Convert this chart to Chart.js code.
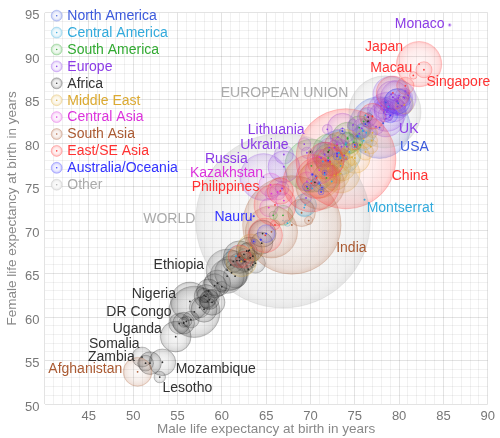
<!DOCTYPE html>
<html><head><meta charset="utf-8">
<script src="https://cdn.jsdelivr.net/npm/chart.js@4"></script>
<style>html,body{margin:0;padding:0;background:#fff}</style>
</head><body>
<canvas id="c" width="500" height="438" style="width:500px;height:438px;display:block"></canvas>
<script>
// ---------- DATA: [country, male LE, female LE, population (millions)] ----------
const regionNames = ['North America','Central America','South America','Europe','Africa','Middle East','Central Asia','South Asia','East/SE Asia','Australia/Oceania','Other'];

const northAmerica = [
 ['USA',77.8,81.8,322],['Canada',79.9,84.6,35],['Greenland',70.6,76.2,0.056],
 ['Bermuda',78.5,84.7,0.065],['Saint Pierre and Miquelon',78.2,82.3,0.006]
];
const centralAmerica = [
 ['Mexico',73.2,78.9,123],['Guatemala',69.4,72.9,16],['Cuba',76.3,81.2,11.2],['Haiti',61.6,67.0,10.8],
 ['Dominican Republic',76.0,80.3,10.5],['Honduras',69.3,72.6,8.9],['Nicaragua',71.0,75.3,6.0],
 ['El Salvador',71.4,77.9,6.1],['Costa Rica',75.9,81.4,4.9],['Panama',75.9,81.5,3.7],['Puerto Rico',76.2,83.2,3.5],
 ['Jamaica',72.4,75.6,2.9],['Trinidad and Tobago',70.1,75.6,1.2],['Belize',67.4,70.8,0.35],['Bahamas',70.2,74.8,0.33],
 ['Barbados',73.3,78.4,0.29],['Saint Lucia',75.4,80.8,0.16],['Grenada',71.6,76.4,0.11],['Saint Vincent',73.4,77.4,0.1],
 ['Antigua and Barbuda',74.4,79.0,0.09],['Dominica',74.0,80.0,0.07],['Saint Kitts and Nevis',73.4,78.3,0.05],
 ['Cayman Islands',78.8,84.2,0.06],['Aruba',74.0,79.8,0.11],['Montserrat',76.1,73.5,0.005]
];
const southAmerica = [
 ['Brazil',70.1,77.4,205],['Colombia',72.1,79.2,47],['Argentina',74.2,80.6,43],['Peru',71.8,76.0,30],
 ['Venezuela',72.0,78.3,30],['Chile',75.5,81.8,17.7],['Ecuador',74.0,79.9,16],['Bolivia',66.9,71.7,11],
 ['Paraguay',74.9,80.1,6.8],['Uruguay',74.2,80.5,3.4],['Guyana',65.8,71.7,0.77],['Suriname',69.7,74.8,0.58],
 ['French Guiana',76.0,82.5,0.25],['Falkland Islands',75.6,79.8,0.003]
];
const europe = [
 ['Russia',64.7,76.1,142],['Germany',78.6,83.6,81],['France',79.1,85.6,66.8],['United Kingdom',78.5,82.8,64.4],
 ['Italy',79.9,85.2,62],['Spain',79.3,85.3,48.6],['Ukraine',67.0,77.3,44],['Poland',73.6,81.7,38.5],
 ['Romania',71.6,78.7,21.6],['Netherlands',79.5,83.8,17],['Belgium',78.3,83.9,11.4],['Greece',78.3,83.6,10.8],
 ['Czech Republic',75.8,81.7,10.6],['Portugal',76.4,83.0,10.8],['Sweden',80.3,84.3,9.9],['Hungary',72.1,79.5,9.9],
 ['Belarus',67.0,78.7,9.6],['Austria',78.9,84.3,8.7],['Switzerland',80.5,85.3,8.2],['Serbia',73.0,78.6,7.1],
 ['Bulgaria',71.2,78.3,7.1],['Denmark',77.4,81.9,5.6],['Finland',78.0,84.3,5.5],['Slovakia',73.1,80.7,5.4],
 ['Norway',79.8,84.2,5.3],['Ireland',78.5,83.3,4.9],['Croatia',72.7,79.5,4.3],['Bosnia and Herzegovina',73.5,79.6,3.9],
 ['Moldova',66.8,74.8,3.5],['Albania',75.5,81.1,3.0],['Lithuania',69.3,79.9,2.9],['Macedonia',73.8,78.6,2.1],
 ['Slovenia',74.8,82.1,2.0],['Latvia',69.6,78.9,2.0],['Kosovo',69.5,73.7,1.9],['Estonia',71.9,81.6,1.3],
 ['Cyprus',76.0,81.4,1.2],['Montenegro',74.1,79.6,0.64],['Luxembourg',79.3,85.3,0.58],['Malta',78.9,83.0,0.42],
 ['Iceland',81.0,85.5,0.34],['Jersey',79.8,84.8,0.1],['Guernsey',80.0,85.5,0.066],['Isle of Man',79.8,83.4,0.088],
 ['Andorra',80.6,85.2,0.085],['Faroe Islands',78.7,83.8,0.05],['Gibraltar',76.6,82.4,0.03],
 ['Liechtenstein',79.8,84.9,0.038],['San Marino',80.7,86.0,0.033],['Monaco',85.7,93.6,0.038]
];
const africa = [
 ['Nigeria',56.9,60.6,186],['Ethiopia',60.6,65.4,102],['DR Congo',56.4,61.8,79],['South Africa',60.6,64.7,55],
 ['Tanzania',61.1,65.1,53],['Kenya',62.0,66.9,47],['Uganda',54.8,57.75,40],['Ghana',64.6,69.6,27],
 ['Mozambique',53.3,54.8,26],['Madagascar',63.1,67.7,24.4],['Angola',59.5,63.9,25],['Cameroon',58.0,60.9,24],
 ['Ivory Coast',58.9,61.7,23.7],['Niger',59.2,63.6,19],['Burkina Faso',58.5,63.0,19],['Mali',58.2,62.4,17.5],
 ['Malawi',61.5,64.7,18],['Zambia',51.9,54.7,16],['Zimbabwe',61.3,66.4,14.5],['Senegal',64.5,68.5,15],
 ['Chad',55.7,59.3,14],['Guinea',57.5,61.1,12],['South Sudan',55.2,59.25,12.5],['Rwanda',62.6,66.4,11.5],
 ['Somalia',51.0,55.4,11],['Benin',63.8,66.2,10.7],['Burundi',58.6,62.0,10.5],['Togo',63.0,67.6,7.5],
 ['Sierra Leone',56.5,59.7,6.5],['Eritrea',62.8,67.6,6],['Central African Republic',51.4,54.7,5.5],
 ['Congo',58.4,61.8,4.8],['Liberia',58.0,62.5,4.5],['Mauritania',61.7,66.5,3.7],['Namibia',62.5,67.2,2.4],
 ['Botswana',63.2,66.8,2.2],['Lesotho',53.0,53.1,2.1],['Gambia',63.5,67.0,2.0],['Gabon',60.0,63.5,1.7],
 ['Guinea-Bissau',56.0,59.5,1.8],['Swaziland',55.7,59.4,1.4],['Mauritius',72.0,79.0,1.3],
 ['Djibouti',61.0,66.0,0.9],['Comoros',62.0,66.5,0.8],['Equatorial Guinea',63.0,65.5,0.8],
 ['Reunion',76.5,83.0,0.85],['Cape Verde',70.5,75.5,0.55],['Sao Tome and Principe',63.5,66.0,0.2],
 ['Seychelles',70.0,79.0,0.09],['Saint Helena',76.5,82.5,0.008]
];
const middleEast = [
 ['Egypt',71.1,76.0,90],['Iran',73.4,76.5,80],['Turkey',72.4,77.6,80],['Algeria',75.0,78.3,40],
 ['Sudan',62.2,66.4,40],['Iraq',72.7,76.3,37],['Morocco',74.0,79.9,34],['Saudi Arabia',73.5,77.3,32],
 ['Yemen',63.3,68.0,27],['Syria',72.0,77.1,18],['Tunisia',74.0,78.3,11],['UAE',76.0,80.5,9.3],
 ['Israel',80.6,84.4,8.2],['Jordan',73.1,76.4,8],['Libya',74.7,78.4,6.3],['Lebanon',76.2,79.0,6],
 ['Palestine',72.0,76.0,4.6],['Oman',73.5,77.6,4.4],['Kuwait',76.8,79.6,4],['Qatar',76.9,80.3,2.3],
 ['Bahrain',77.0,81.2,1.4]
];
const centralAsia = [
 ['Uzbekistan',71.0,76.9,30],['Kazakhstan',65.5,75.2,18],['Azerbaijan',69.6,75.6,9.8],['Tajikistan',65.3,72.6,8.5],
 ['Kyrgyzstan',66.3,74.4,6],['Turkmenistan',67.0,73.4,5.4],['Georgia',73.0,79.9,3.7],['Armenia',71.0,78.4,3],
 ['Mongolia',65.6,74.2,3]
];
const southAsia = [
 ['India',67.9,70.6,1310],['Pakistan',65.6,69.8,195],['Bangladesh',71.1,75.2,162],['Afghanistan',50.5,53.7,33],
 ['Nepal',69.0,72.0,29],['Sri Lanka',73.0,79.8,21],['Bhutan',69.8,71.1,0.78],['Maldives',73.5,78.0,0.4]
];
const eastAsia = [
 ['China',74.0,78.2,1373],['Indonesia',70.1,75.4,258],['Japan',82.25,89.1,127],['Philippines',66.0,72.9,102],
 ['Vietnam',70.7,76.0,95],['Thailand',71.7,78.0,68],['Myanmar',64.9,69.4,56],['South Korea',79.3,85.8,51],
 ['Malaysia',72.2,77.9,31],['North Korea',66.6,74.5,25],['Taiwan',77.0,83.1,23.5],['Cambodia',62.0,67.0,16],
 ['Laos',62.6,66.6,7],['Hong Kong',80.7,86.6,7.2],['Singapore',82.8,88.45,5.8],['Timor-Leste',66.0,70.6,1.2],
 ['Macau',81.6,87.8,0.6],['Brunei',75.0,79.6,0.43]
];
const oceania = [
 ['Australia',79.8,84.8,23],['Papua New Guinea',65.0,69.6,7.8],['New Zealand',79.0,83.2,4.5],['Fiji',69.6,75.0,0.9],
 ['Solomon Islands',73.0,78.5,0.64],['French Polynesia',75.0,79.8,0.28],['Vanuatu',71.2,74.4,0.27],
 ['New Caledonia',73.6,81.4,0.27],['Samoa',71.6,76.6,0.2],['Guam',76.2,82.2,0.16],['Kiribati',63.6,68.7,0.11],
 ['Micronesia',71.3,74.9,0.1],['Tonga',74.0,78.3,0.1],['American Samoa',72.0,78.0,0.055],
 ['Northern Mariana Islands',75.3,80.8,0.053],['Marshall Islands',71.0,75.4,0.07],['Palau',70.2,76.4,0.021],
 ['Cook Islands',73.0,78.8,0.01],['Tuvalu',64.4,68.9,0.011],['Nauru',63.6,71.6,0.01]
];
const other = [
 ['World',66.9,71.1,7300],['European Union',78.4,83.6,513]
];

// Text annotations: [text, male LE (left edge), female LE (middle), region index]
const annotations = [
 ['Monaco',79.51,93.71,3],['Japan',76.15,91.01,8],['Macau',76.75,88.65,8],['Singapore',83.09,87.08,8],
 ['EUROPEAN UNION',59.88,85.73,10],['UK',80.0,81.57,3],['USA',80.11,79.55,0],['China',79.17,76.18,8],
 ['Montserrat',76.34,72.58,1],['Lithuania',62.93,81.46,3],['Ukraine',62.08,79.78,3],['Russia',58.09,78.2,3],
 ['Kazakhstan',56.41,76.52,6],['Philippines',56.6,74.94,8],['Nauru',59.17,71.46,9],['WORLD',51.14,71.24,10],
 ['India',72.9,67.98,7],['Ethiopia',52.3,65.96,4],['Nigeria',49.83,62.58,4],['DR Congo',46.97,60.56,4],
 ['Uganda',47.7,58.65,4],['Somalia',45.02,56.85,4],['Zambia',44.91,55.39,4],['Afghanistan',40.43,54.04,7],
 ['Mozambique',54.8,54.04,4],['Lesotho',53.3,51.8,4]
];

// ---------- STYLE ----------
const regionRGB = [[60,90,220],[50,170,220],[50,170,50],[140,60,230],[40,40,40],[220,170,50],[220,50,220],[170,90,50],[255,50,50],[50,50,255],[170,170,170]];
const textRGB   = [[60,90,220],[50,170,220],[50,170,50],[140,60,230],[50,50,50],[220,170,50],[220,50,220],[170,90,50],[255,50,50],[50,50,255],[170,170,170]];
const regionData = [northAmerica,centralAmerica,southAmerica,europe,africa,middleEast,centralAsia,southAsia,eastAsia,oceania,other];
const FONT = "'Liberation Sans', Arial, Helvetica, sans-serif";
const rgba = (c,a) => `rgba(${c[0]},${c[1]},${c[2]},${a})`;
const radiusFor = pop => Math.max(0.8, 50 * Math.cbrt(pop / 1370));

function gradientFill(c, ctx2d, x, y, r) {
  const g = ctx2d.createRadialGradient(x, y, 0, x, y, Math.max(r, 0.5));
  g.addColorStop(0, rgba(c, 0.03));
  g.addColorStop(0.6, rgba(c, 0.09));
  g.addColorStop(0.9, rgba(c, 0.17));
  g.addColorStop(1, rgba(c, 0.28));
  return g;
}

const datasets = regionData.map((list, i) => ({
  label: regionNames[i],
  data: list.map(([name, m, f, pop]) => ({x: m, y: f, r: radiusFor(pop), name})),
  regionIndex: i,
  borderColor: rgba(regionRGB[i], 0.3),
  borderWidth: 0.7,
  backgroundColor: (ctx) => {
    const ch = ctx.chart, raw = ctx.raw;
    const fallback = rgba(regionRGB[i], 0.1);
    if (!raw || !ch.scales || !ch.scales.x || !ch.scales.y) return fallback;
    const px = ch.scales.x.getPixelForValue(raw.x), py = ch.scales.y.getPixelForValue(raw.y);
    if (!Number.isFinite(px) || !Number.isFinite(py) || !Number.isFinite(raw.r)) return fallback;
    return gradientFill(regionRGB[i], ch.ctx, px, py, raw.r);
  }
})).reverse(); // "Other" (World) drawn underneath

const overlayPlugin = {
  id: 'overlay',
  afterDatasetsDraw(chart) {
    const ctx = chart.ctx;
    ctx.save();
    chart.data.datasets.forEach((ds, di) => {
      const meta = chart.getDatasetMeta(di);
      ctx.fillStyle = rgba(regionRGB[ds.regionIndex], 0.95);
      meta.data.forEach(el => {
        ctx.beginPath(); ctx.arc(el.x, el.y, 0.9, 0, Math.PI * 2); ctx.fill();
      });
    });
    ctx.font = `14px ${FONT}`;
    ctx.textBaseline = 'middle';
    ctx.textAlign = 'left';
    const sx = chart.scales.x, sy = chart.scales.y;
    annotations.forEach(([t, x, y, ri]) => {
      ctx.fillStyle = rgba(textRGB[ri], 1);
      ctx.fillText(t, sx.getPixelForValue(x), sy.getPixelForValue(y));
    });
    ctx.restore();
  },
  afterDraw(chart) {
    const ctx = chart.ctx;
    ctx.save();
    ctx.font = `14px ${FONT}`;
    ctx.textBaseline = 'middle';
    ctx.textAlign = 'left';
    regionNames.forEach((name, i) => {
      const cx = 56.7, cy = 15.7 + i * 16.9, r = 5.5, c = regionRGB[i];
      ctx.fillStyle = '#fff';
      ctx.beginPath(); ctx.arc(cx, cy, r, 0, Math.PI * 2); ctx.fill();
      const g = ctx.createRadialGradient(cx, cy, 0, cx, cy, r);
      g.addColorStop(0, rgba(c, 0.02)); g.addColorStop(0.6, rgba(c, 0.1)); g.addColorStop(1, rgba(c, 0.35));
      ctx.fillStyle = g;
      ctx.beginPath(); ctx.arc(cx, cy, r, 0, Math.PI * 2); ctx.fill();
      ctx.strokeStyle = rgba(c, 0.35); ctx.lineWidth = 0.7; ctx.stroke();
      ctx.fillStyle = rgba(c, 0.9);
      ctx.beginPath(); ctx.arc(cx, cy, 0.8, 0, Math.PI * 2); ctx.fill();
      ctx.fillStyle = rgba(textRGB[i], 1);
      ctx.fillText(name, 67.3, cy + 0.5);
    });
    ctx.restore();
  }
};

const gridColor = ctx => (ctx.tick && ctx.tick.value % 5 === 0) ? 'rgba(0,0,0,0.11)' : 'rgba(0,0,0,0.055)';

new Chart(document.getElementById('c'), {
  type: 'bubble',
  data: { datasets },
  plugins: [overlayPlugin],
  options: {
    responsive: false,
    animation: false,
    events: [],
    layout: { autoPadding: false, padding: { top: 3.5, right: 9, left: 0, bottom: 0 } },
    plugins: { legend: { display: false }, tooltip: { enabled: false } },
    scales: {
      x: {
        type: 'linear', min: 40, max: 90,
        border: { display: false },
        grid: { color: gridColor, drawTicks: false, lineWidth: 1 },
        ticks: {
          stepSize: 1, autoSkip: false, maxRotation: 0, padding: 5,
          color: '#777', font: { family: FONT, size: 13 },
          callback: v => (v % 5 === 0 && v !== 40) ? String(v) : ''
        },
        title: { display: true, text: 'Male life expectancy at birth in years', color: '#888',
                 font: { family: FONT, size: 13.5 }, padding: { top: 0, bottom: 1 } },
        afterFit: s => { s.height = 34; }
      },
      y: {
        type: 'linear', min: 50, max: 95,
        border: { display: false },
        grid: { color: gridColor, drawTicks: false, lineWidth: 1 },
        ticks: {
          stepSize: 1, autoSkip: false, padding: 5, labelOffset: 3,
          color: '#777', font: { family: FONT, size: 13 },
          callback: v => (v % 5 === 0) ? String(v) : ''
        },
        title: { display: true, text: 'Female life expectancy at birth in years', color: '#888',
                 font: { family: FONT, size: 13.5 }, padding: { top: 4, bottom: 0 } },
        afterFit: s => { s.width = 44.5; }
      }
    }
  }
});
</script>
</body></html>
